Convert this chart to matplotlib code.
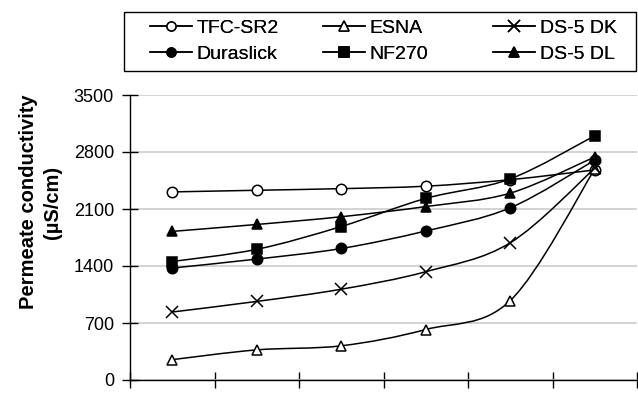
import matplotlib
matplotlib.use("Agg")
import matplotlib.pyplot as plt
import numpy as np
from matplotlib.path import Path
from matplotlib.patches import PathPatch, Rectangle
from matplotlib.lines import Line2D

plt.rcParams['font.family'] = ['Liberation Sans', 'DejaVu Sans']

categories = [1, 2, 3, 4, 5, 6]
tfc_sr2 = [2310, 2330, 2350, 2380, 2460, 2580]
esna = [250, 370, 420, 620, 975, 2590]
ds5_dk = [835, 965, 1115, 1330, 1685, 2600]
duraslick = [1375, 1485, 1615, 1830, 2115, 2700]
nf270 = [1455, 1605, 1885, 2230, 2470, 3000]
ds5_dl = [1825, 1910, 2005, 2130, 2295, 2740]
yticks = [0, 700, 1400, 2100, 2800, 3500]

series = [
    ("TFC-SR2", tfc_sr2, dict(marker='o', mfc='white')),
    ("ESNA", esna, dict(marker='^', mfc='white')),
    ("DS-5 DK", ds5_dk, dict(marker='x', mfc='black')),
    ("Duraslick", duraslick, dict(marker='o', mfc='black')),
    ("NF270", nf270, dict(marker='s', mfc='black')),
    ("DS-5 DL", ds5_dl, dict(marker='^', mfc='black')),
]

W, H = 638, 393
fig = plt.figure(figsize=(W/100, H/100), dpi=100)
ax = fig.add_axes([130/W, 1-380/H, 507/W, 285/H])


def smooth_path(x, y):
    x = np.asarray(x, float); y = np.asarray(y, float)
    n = len(x)
    verts = [(x[0], y[0])]
    codes = [Path.MOVETO]
    for i in range(n-1):
        p0 = (x[i-1], y[i-1]) if i > 0 else (x[i], y[i])
        p1 = (x[i], y[i]); p2 = (x[i+1], y[i+1])
        p3 = (x[i+2], y[i+2]) if i+2 < n else (x[i+1], y[i+1])
        c1 = (p1[0] + (p2[0]-p0[0])/6, p1[1] + (p2[1]-p0[1])/6)
        c2 = (p2[0] - (p3[0]-p1[0])/6, p2[1] - (p3[1]-p1[1])/6)
        verts += [c1, c2, p2]
        codes += [Path.CURVE4]*3
    return Path(verts, codes)


handles = {}
for name, vals, st in series:
    patch = PathPatch(smooth_path(categories, vals), facecolor='none',
                      edgecolor='black', lw=1.1, transform=ax.transData, zorder=3)
    ax.add_patch(patch)
    ms = 9 if st['marker'] == 'x' else 7.5
    ax.plot(categories, vals, linestyle='none', marker=st['marker'],
            mfc=st['mfc'], mec='black', mew=1.1, ms=ms, zorder=4)
    lms = 8 if st['marker'] == 'x' else 6.5
    handles[name] = Line2D([], [], color='black', lw=1.1, marker=st['marker'],
                           mfc=st['mfc'], mec='black', mew=1.1, ms=lms)

ax.set_xlim(0.5, 6.5)
ax.set_ylim(0, 3500)
ax.set_yticks(yticks)
ax.set_xticks(np.arange(0.5, 7.0, 1.0))
ax.set_xticklabels([])
ax.yaxis.grid(True, color='#cccccc', lw=1.2)
ax.set_axisbelow(True)
for s in ['top', 'right']:
    ax.spines[s].set_visible(False)
for s in ['left', 'bottom']:
    ax.spines[s].set_color('black')
    ax.spines[s].set_linewidth(1.0)
ax.tick_params(axis='both', direction='inout', length=11, width=1.0, colors='black',
               labelsize=13)
ax.tick_params(axis='y', pad=6)
ax.set_ylabel("Permeate conductivity\n(µS/cm)", fontsize=14.5, fontweight='bold',
              linespacing=1.35)
ax.yaxis.set_label_coords((62-130)/507, (380-202)/285)

# legend: three columns at fixed positions, with one frame around them
col_x = [150, 323, 493]
cols = [["TFC-SR2", "Duraslick"], ["ESNA", "NF270"], ["DS-5 DK", "DS-5 DL"]]
for cx, names in zip(col_x, cols):
    lg = fig.legend([handles[k] for k in names], names, ncol=1,
                    loc='center left', bbox_to_anchor=(cx/W, 1-41/H),
                    fontsize=14, frameon=False, handlelength=2.15,
                    handletextpad=0.25, borderpad=0, labelspacing=0.45,
                    borderaxespad=0)
    fig.add_artist(lg)
fig.add_artist(Rectangle((124/W, 1-71/H), (636-124)/W, 59/H, transform=fig.transFigure,
                         facecolor='none', edgecolor='black', lw=1.0))

fig.savefig("out.png", dpi=100)
